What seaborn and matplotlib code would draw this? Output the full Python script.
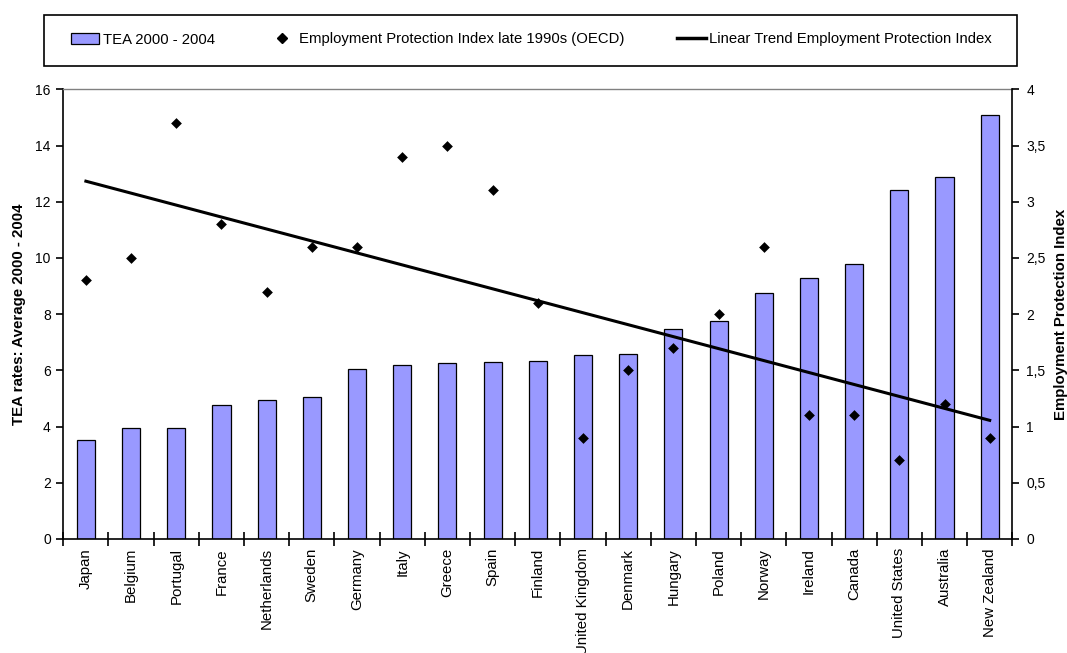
import numpy as np
import pandas as pd
import matplotlib
matplotlib.use("Agg")
import matplotlib.pyplot as plt
import seaborn as sns
from matplotlib.patches import Patch, Rectangle
from matplotlib.lines import Line2D
from matplotlib.ticker import FuncFormatter

# Data: TEA rates (left axis) and employment protection index (right axis)
countries = ["Japan", "Belgium", "Portugal", "France", "Netherlands", "Sweden",
             "Germany", "Italy", "Greece", "Spain", "Finland", "United Kingdom",
             "Denmark", "Hungary", "Poland", "Norway", "Ireland", "Canada",
             "United States", "Australia", "New Zealand"]
tea_rates = [3.52, 3.94, 3.95, 4.77, 4.95, 5.04, 6.06, 6.18, 6.27, 6.30, 6.32,
             6.55, 6.59, 7.46, 7.75, 8.76, 9.29, 9.78, 12.40, 12.87, 15.10]
epi = [2.3, 2.5, 3.7, 2.8, 2.2, 2.6, 2.6, 3.4, 3.5, 3.1, 2.1,
       0.9, 1.5, 1.7, 2.0, 2.6, 1.1, 1.1, 0.7, 1.2, 0.9]
left_ticks = [0, 2, 4, 6, 8, 10, 12, 14, 16]
right_ticks = [0, 0.5, 1, 1.5, 2, 2.5, 3, 3.5, 4]

bar_label = "TEA 2000 - 2004"
point_label = "Employment Protection Index late 1990s (OECD)"
trend_label = "Linear Trend Employment Protection Index"

plt.rcParams['font.family'] = ['Liberation Sans', 'DejaVu Sans']
plt.rcParams['font.size'] = 10

BAR_COLOR = "#9999FF"
W, H = 1067, 653

df = pd.DataFrame({"country": countries, "tea": tea_rates, "epi": epi,
                   "pos": np.arange(len(countries))})
n = len(countries)

fig = plt.figure(figsize=(W / 100, H / 100), dpi=100)
ax = fig.add_axes([63.3 / W, 1 - 539 / H, (1012.3 - 63.3) / W, (539 - 89.3) / H])

# Bars on the primary axis
sns.barplot(data=df, x="country", y="tea", ax=ax, color=BAR_COLOR, saturation=1,
            width=0.4, edgecolor="black", linewidth=0.9, zorder=2)

# Index points and its linear trend on the secondary axis
ax2 = ax.twinx()
sns.regplot(data=df, x="pos", y="epi", ax=ax2, scatter=False, ci=None,
            truncate=True, color="black", line_kws={"linewidth": 2.2, "zorder": 3})
sns.scatterplot(data=df, x="pos", y="epi", ax=ax2, marker="D", color="black",
                s=30, linewidth=0, zorder=4)

ax.set_xlim(-0.5, n - 0.5)
ax.set_ylim(0, 16)
ax2.set_ylim(0, 4)

ax.set_xticks(np.arange(n))
ax.set_xticklabels(countries, rotation=90)
ax.set_xticks(np.arange(-0.5, n, 1.0), minor=True)
ax.tick_params(axis="x", which="major", length=0, pad=6.5, labelsize=10.8)
ax.tick_params(axis="x", which="minor", direction="inout", length=10, width=1.2)
ax.set_yticks(left_ticks)
ax.tick_params(axis="y", direction="out", length=5, width=1.2, pad=4, labelsize=10)
ax2.set_yticks(right_ticks)
ax2.yaxis.set_major_formatter(FuncFormatter(lambda v, _: f"{v:g}".replace(".", ",")))
ax2.tick_params(axis="y", direction="out", length=5, width=1.2, pad=5, labelsize=10)

ax.set_xlabel("")
ax2.set_xlabel("")
ax.set_ylabel("TEA rates: Average 2000 - 2004", fontweight="bold", fontsize=10.8)
ax.yaxis.set_label_coords(-0.0393, 0.5)
ax2.set_ylabel("Employment Protection Index", fontweight="bold", fontsize=10.8)
ax2.yaxis.set_label_coords(1.044, 0.5)

for a in (ax, ax2):
    a.set_facecolor("none")
    a.grid(False)
ax.spines["top"].set_color("#808080")
ax.spines["top"].set_linewidth(1.0)
ax.spines["right"].set_visible(False)
ax.spines["left"].set_linewidth(1.2)
ax.spines["bottom"].set_linewidth(1.2)
ax2.spines["top"].set_visible(False)
ax2.spines["left"].set_visible(False)
ax2.spines["bottom"].set_visible(False)
ax2.spines["right"].set_linewidth(1.2)

# Legend frame and entries along the top
fig.add_artist(Rectangle((44 / W, 1 - 66 / H), (1017 - 44) / W, 51 / H,
                         transform=fig.transFigure, fill=False,
                         edgecolor="black", linewidth=1.2))
handles = [
    Patch(facecolor=BAR_COLOR, edgecolor="black", linewidth=0.9),
    Line2D([], [], marker="D", color="black", linestyle="none", markersize=5.5),
    Line2D([], [], color="black", linewidth=2.5),
]
fig.legend(handles, [bar_label, point_label, trend_label], ncol=3, mode="expand",
           loc="center", bbox_to_anchor=(71 / W, 1 - 39.5 / H - 0.01, (992 - 71) / W, 0.02),
           frameon=False, borderpad=0, borderaxespad=0, handlelength=1.9,
           handletextpad=0.25, fontsize=10.7)

fig.savefig("out.png", dpi=100)
